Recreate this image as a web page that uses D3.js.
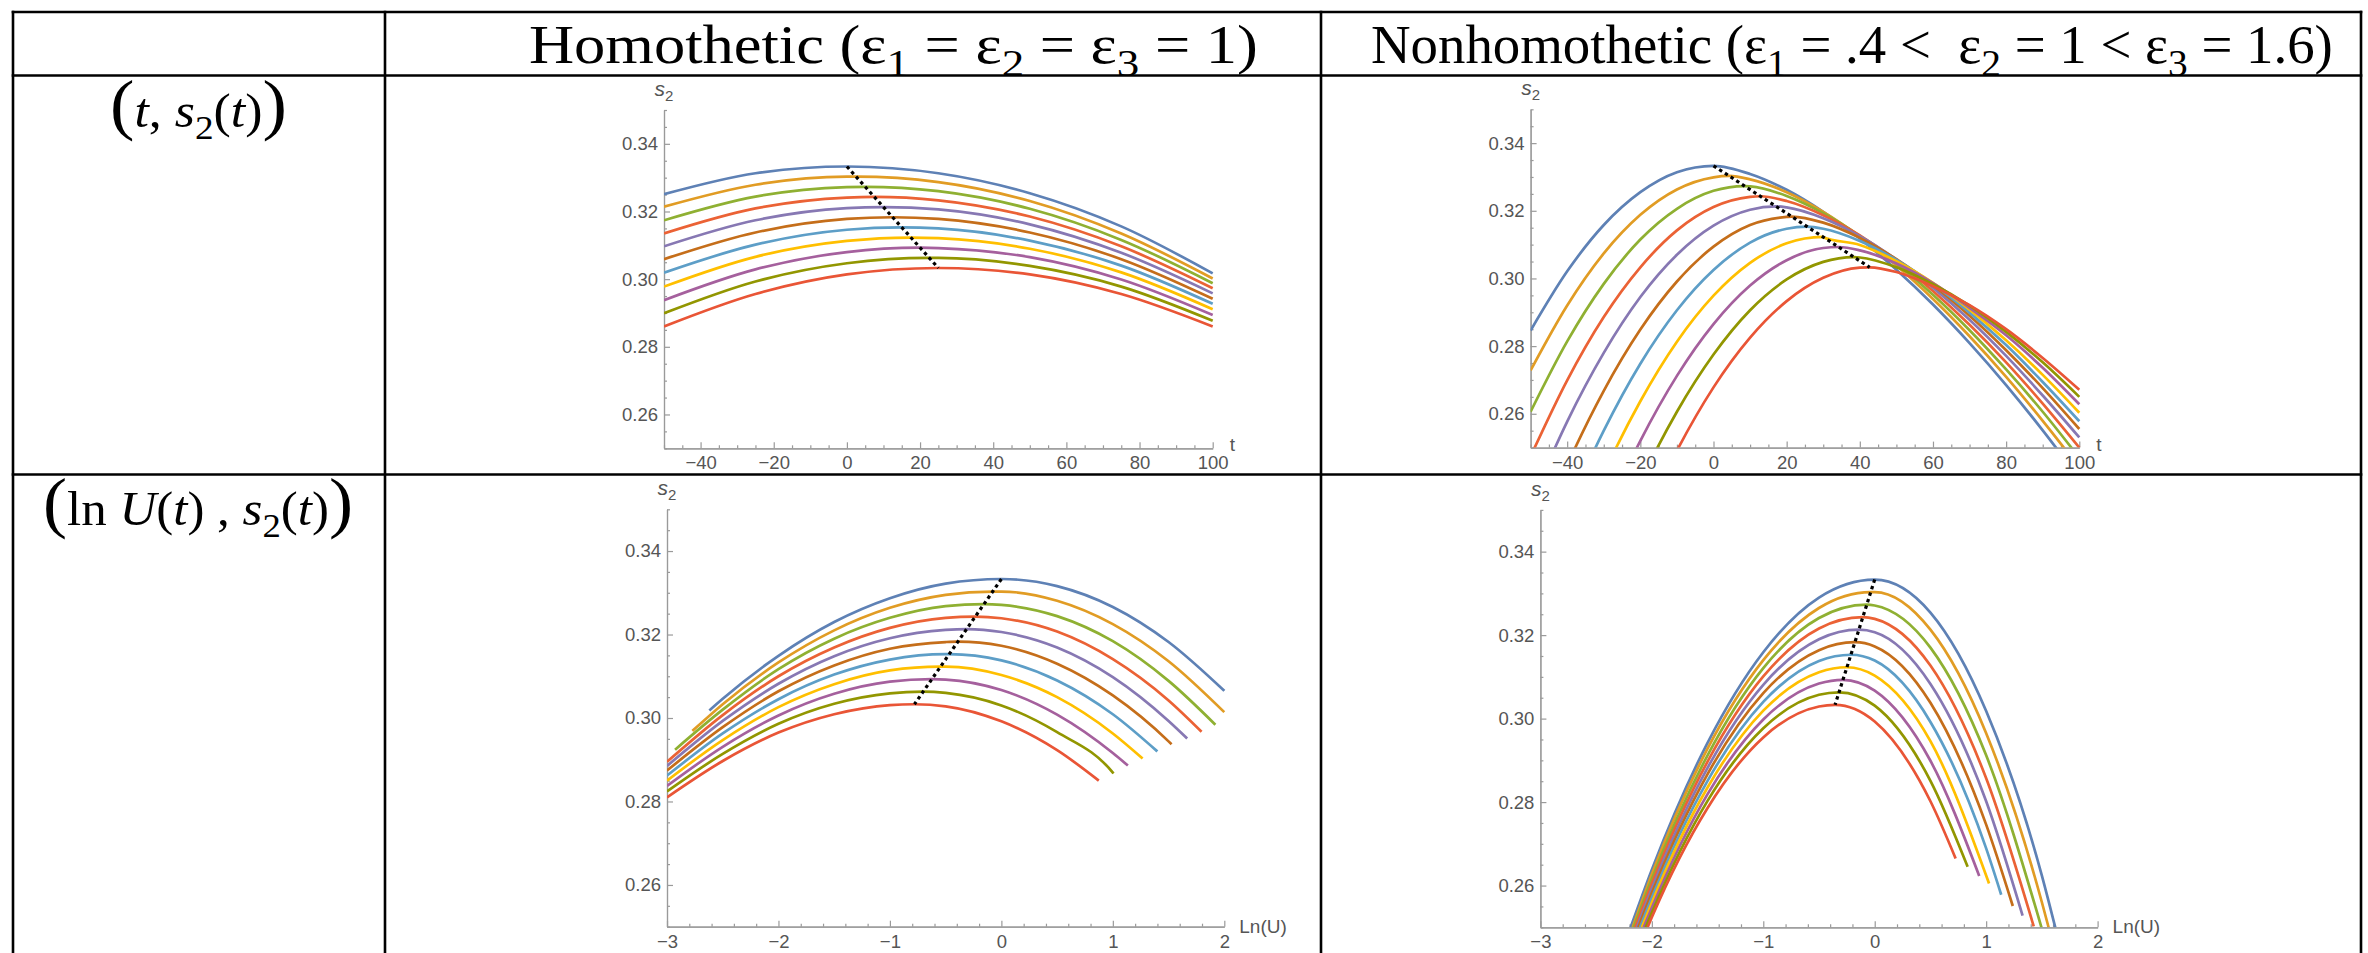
<!DOCTYPE html>
<html>
<head>
<meta charset="utf-8">
<title>s2 paths</title>
<script src="https://cdn.jsdelivr.net/npm/d3@7/dist/d3.min.js"></script>
<style>
  body { margin: 0; background: #fff; }
  svg { display: block; }
</style>
</head>
<body>
<div id="chart"></div>
<script>
// Mathematica default plot colours, one per curve
const curveColors = ['#5e81b5', '#e19c24', '#8fb032', '#eb6235', '#8778b3', '#c56e1a', '#5d9ec7', '#ffbf00', '#a5609d', '#929600', '#e95536']

// peak share of every curve (same in all four panels)
const peakShare = [0.3333, 0.3303, 0.3273, 0.3243, 0.3213, 0.3183, 0.3153, 0.3123, 0.3093, 0.3063, 0.3033]

// top left: homothetic, s2 against t
const homTGrid = [-50, -25, 0, 25, 50, 75, 100]
const homTValues = [
  [0.3251, 0.3313, 0.3333, 0.3313, 0.3254, 0.3156, 0.3017],
  [0.3214, 0.3279, 0.3303, 0.3287, 0.3231, 0.3135, 0.3002],
  [0.3174, 0.3244, 0.3272, 0.3260, 0.3208, 0.3116, 0.2988],
  [0.3135, 0.3209, 0.3241, 0.3233, 0.3185, 0.3097, 0.2973],
  [0.3097, 0.3174, 0.3210, 0.3206, 0.3162, 0.3078, 0.2958],
  [0.3059, 0.3138, 0.3178, 0.3178, 0.3138, 0.3059, 0.2942],
  [0.3019, 0.3102, 0.3146, 0.3150, 0.3114, 0.3040, 0.2927],
  [0.2978, 0.3066, 0.3113, 0.3121, 0.3090, 0.3020, 0.2911],
  [0.2938, 0.3029, 0.3080, 0.3092, 0.3065, 0.2999, 0.2894],
  [0.2899, 0.2993, 0.3047, 0.3063, 0.3039, 0.2978, 0.2877],
  [0.2860, 0.2956, 0.3014, 0.3033, 0.3014, 0.2956, 0.2860]
]
const homTPeak = [0, 2.5, 5, 7.5, 10, 12.5, 15, 17.5, 20, 22.5, 25]

// top right: nonhomothetic, s2 against t
const nonTGrid = [-50, -40, -30, -20, -10, 0, 10, 20, 30, 40, 50, 60, 70, 80, 90, 100]
const nonTValues = [
  [0.2846, 0.3021, 0.3158, 0.3255, 0.3314, 0.3333, 0.3309, 0.3262, 0.3197, 0.3118, 0.3026, 0.2923, 0.2809, 0.2685, 0.2551, 0.2408],
  [0.2728, 0.2920, 0.3074, 0.3188, 0.3263, 0.3299, 0.3293, 0.3255, 0.3197, 0.3124, 0.3038, 0.2939, 0.2829, 0.2709, 0.2579, 0.2441],
  [0.2606, 0.2814, 0.2984, 0.3115, 0.3206, 0.3259, 0.3272, 0.3244, 0.3193, 0.3126, 0.3045, 0.2952, 0.2847, 0.2731, 0.2606, 0.2470],
  [0.2474, 0.2699, 0.2886, 0.3033, 0.3142, 0.3211, 0.3241, 0.3229, 0.3187, 0.3127, 0.3052, 0.2963, 0.2863, 0.2752, 0.2630, 0.2500],
  [0.2335, 0.2577, 0.2780, 0.2945, 0.3070, 0.3156, 0.3203, 0.3210, 0.3178, 0.3125, 0.3056, 0.2973, 0.2878, 0.2771, 0.2654, 0.2530],
  [0.2189, 0.2448, 0.2668, 0.2849, 0.2991, 0.3094, 0.3158, 0.3182, 0.3165, 0.3120, 0.3057, 0.2980, 0.2890, 0.2788, 0.2676, 0.2555],
  [0.2039, 0.2314, 0.2550, 0.2748, 0.2906, 0.3025, 0.3106, 0.3147, 0.3147, 0.3111, 0.3055, 0.2984, 0.2899, 0.2803, 0.2694, 0.2578],
  [0.1878, 0.2170, 0.2423, 0.2637, 0.2813, 0.2949, 0.3046, 0.3104, 0.3122, 0.3099, 0.3051, 0.2987, 0.2908, 0.2817, 0.2715, 0.2603],
  [0.1710, 0.2019, 0.2289, 0.2520, 0.2712, 0.2865, 0.2979, 0.3054, 0.3090, 0.3083, 0.3044, 0.2986, 0.2913, 0.2832, 0.2736, 0.2628],
  [0.1539, 0.1864, 0.2151, 0.2398, 0.2606, 0.2775, 0.2906, 0.2997, 0.3049, 0.3062, 0.3033, 0.2983, 0.2920, 0.2842, 0.2752, 0.2650],
  [0.1357, 0.1699, 0.2002, 0.2266, 0.2491, 0.2678, 0.2825, 0.2933, 0.3002, 0.3032, 0.3019, 0.2977, 0.2921, 0.2850, 0.2765, 0.2671]
]
const nonTPeak = [0, 4.3, 8.5, 12.8, 17.1, 21.4, 25.6, 29.9, 34.2, 38.4, 42.7]

// bottom row: s2 against ln U
const lnUGrid = [-3, -2.5, -2, -1.5, -1, -0.5, 0, 0.5, 1, 1.5, 2]

// bottom left: homothetic
const homUValues = [
  [null, 0.3046, 0.3149, 0.3230, 0.3287, 0.3322, 0.3333, 0.3316, 0.3266, 0.3182, 0.3065],
  [null, 0.3033, 0.3133, 0.3210, 0.3264, 0.3295, 0.3303, 0.3281, 0.3225, 0.3136, 0.3014],
  [null, 0.3020, 0.3117, 0.3190, 0.3240, 0.3268, 0.3271, 0.3244, 0.3184, 0.3089, null],
  [0.2895, 0.3007, 0.3100, 0.3169, 0.3216, 0.3240, 0.3239, 0.3207, 0.3141, 0.3042, null],
  [0.2885, 0.2993, 0.3082, 0.3148, 0.3191, 0.3211, 0.3206, 0.3169, 0.3098, 0.2993, null],
  [0.2874, 0.2978, 0.3064, 0.3126, 0.3166, 0.3182, 0.3173, 0.3130, 0.3054, 0.2944, null],
  [0.2862, 0.2963, 0.3045, 0.3104, 0.3140, 0.3153, 0.3138, 0.3090, 0.3009, null, null],
  [0.2850, 0.2947, 0.3026, 0.3081, 0.3114, 0.3123, 0.3103, 0.3050, 0.2963, null, null],
  [0.2837, 0.2931, 0.3006, 0.3058, 0.3087, 0.3092, 0.3067, 0.3008, 0.2916, null, null],
  [0.2824, 0.2914, 0.2986, 0.3034, 0.3059, 0.3060, 0.3030, 0.2966, 0.2869, null, null],
  [0.2810, 0.2897, 0.2965, 0.3009, 0.3031, 0.3028, 0.2992, 0.2923, null, null, null]
]
const homUPeak = [0, -0.078, -0.156, -0.234, -0.312, -0.39, -0.468, -0.546, -0.624, -0.702, -0.78]
const homUStart = [[-2.62, 0.3018], [-2.772, 0.2969], [-2.928, 0.2924], null, null, null, null, null, null, null, null]
const homUEnd = [null, null, [1.92, 0.2984], [1.796, 0.2967], [1.667, 0.2951], [1.527, 0.2937], [1.399, 0.2920], [1.267, 0.2903], [1.135, 0.2886], [1.006, 0.2867], [0.874, 0.2850]]

// bottom right: nonhomothetic
const nonUValues = [
  [null, null, 0.2638, 0.2942, 0.3159, 0.3290, 0.3333, 0.3254, 0.3018, 0.2624, null],
  [null, null, 0.2627, 0.2928, 0.3140, 0.3265, 0.3303, 0.3213, 0.2965, 0.2560, null],
  [null, null, 0.2616, 0.2912, 0.3121, 0.3241, 0.3271, 0.3170, 0.2912, null, null],
  [null, null, 0.2605, 0.2897, 0.3101, 0.3216, 0.3239, 0.3127, 0.2857, null, null],
  [null, null, 0.2593, 0.2882, 0.3081, 0.3190, 0.3207, 0.3083, 0.2802, null, null],
  [null, null, 0.2582, 0.2867, 0.3061, 0.3164, 0.3173, 0.3038, 0.2746, null, null],
  [null, null, 0.2571, 0.2851, 0.3040, 0.3138, 0.3139, 0.2992, 0.2689, null, null],
  [null, null, 0.2559, 0.2835, 0.3019, 0.3111, 0.3103, 0.2946, null, null, null],
  [null, null, 0.2547, 0.2819, 0.2998, 0.3084, 0.3067, 0.2899, null, null, null],
  [null, null, 0.2535, 0.2803, 0.2977, 0.3057, 0.3031, 0.2851, null, null, null],
  [null, null, 0.2524, 0.2786, 0.2955, 0.3029, 0.2993, 0.2802, null, null, null]
]
const nonUPeak = [0, -0.036, -0.071, -0.107, -0.142, -0.178, -0.214, -0.249, -0.285, -0.32, -0.356]
const nonUStart = [[-2.19, 0.25], [-2.172, 0.25], [-2.163, 0.25], [-2.15, 0.25], [-2.134, 0.25], [-2.121, 0.25], [-2.106, 0.25], [-2.089, 0.25], [-2.073, 0.25], [-2.055, 0.25], [-2.038, 0.25]]
const nonUEnd = [[1.62, 0.25], [1.56, 0.25], [1.496, 0.25], [1.427, 0.2502], [1.327, 0.2528], [1.239, 0.2551], [1.135, 0.2578], [1.026, 0.2605], [0.938, 0.2623], [0.834, 0.2645], [0.726, 0.2665]]

// ticks
const shareTicks = [0.26, 0.28, 0.30, 0.32, 0.34]
const tTicks = [-40, -20, 0, 20, 40, 60, 80, 100]
const lnUTicks = [-3, -2, -1, 0, 1, 2]

// header and row captions
const headerParts = [
  [{ t: 'Homothetic (' }, { t: 'ε' }, { t: '1', sub: true }, { t: ' = ε' }, { t: '2', sub: true }, { t: ' = ε' }, { t: '3', sub: true }, { t: ' = 1)' }],
  [{ t: 'Nonhomothetic (' }, { t: 'ε' }, { t: '1', sub: true }, { t: ' = .4 <  ε' }, { t: '2', sub: true }, { t: ' = 1 < ε' }, { t: '3', sub: true }, { t: ' = 1.6)' }]
]
const rowParts = [
  [{ t: '(', big: true }, { t: 't', it: true }, { t: ', ' }, { t: 's', it: true }, { t: '2', sub: true }, { t: '(' }, { t: 't', it: true }, { t: ')' }, { t: ')', big: true }],
  [{ t: '(', big: true }, { t: 'ln ' }, { t: 'U', it: true }, { t: '(' }, { t: 't', it: true }, { t: ') , ' }, { t: 's', it: true }, { t: '2', sub: true }, { t: '(' }, { t: 't', it: true }, { t: ')' }, { t: ')', big: true }]
]

// put grid values, start/end and the peak of one curve together, sorted by x
function curvePoints (grid, values, peakX, peakY, start, end) {
  const pts = []
  grid.forEach((x, i) => {
    if (values[i] !== null) pts.push([x, values[i]])
  })
  pts.push([peakX, peakY])
  if (start) pts.push(start)
  if (end) pts.push(end)
  pts.sort((a, b) => a[0] - b[0])
  return pts.filter((p, i) => i === 0 || p[0] - pts[i - 1][0] > 1e-6)
}

function stepValues (from, to, step) {
  const n = Math.round((to - from) / step)
  return d3.range(n + 1).map(i => +(from + i * step).toFixed(4))
}

class SharePanels {
  defaultSetting () {
    return {
      width: 2368,
      height: 953,
      rule: '#000',
      axis: '#9a9a9a',
      label: '#555',
      labelFont: '"Liberation Sans", Arial, sans-serif',
      textFont: '"Liberation Serif", "Times New Roman", serif'
    }
  }

  constructor (selector, option = {}) {
    this.config = Object.assign(this.defaultSetting(), option)
    const { width, height } = this.config
    this.clipCount = 0
    this.svg = d3.select(selector)
      .append('svg')
      .attr('width', width)
      .attr('height', height)
    this.svg.append('rect')
      .attr('width', width)
      .attr('height', height)
      .attr('fill', '#fff')
  }

  // table rules
  drawTable (xs, ys) {
    const { rule, height } = this.config
    const g = this.svg.append('g')
      .attr('stroke', rule)
      .attr('stroke-width', 2.6)
    xs.forEach(x => {
      g.append('line').attr('x1', x).attr('x2', x).attr('y1', ys[0] - 1.3).attr('y2', height)
    })
    ys.forEach(y => {
      g.append('line').attr('x1', xs[0] - 1.3).attr('x2', xs[xs.length - 1] + 1.3).attr('y1', y).attr('y2', y)
    })
  }

  // text made of pieces, squeezed or stretched to a given left/right
  richText (parts, size, baseline, left, right, bigSize) {
    const text = this.svg.append('text')
      .attr('y', baseline)
      .attr('font-family', this.config.textFont)
      .attr('font-size', size)
      .attr('fill', '#000')
      .style('white-space', 'pre')
    let shift = 0
    parts.forEach(p => {
      const want = p.sub ? size * 0.24 : 0
      const span = text.append('tspan').text(p.t).attr('dy', want - shift)
      shift = want
      if (p.sub) span.attr('font-size', size * 0.72)
      if (p.it) span.attr('font-style', 'italic')
      if (p.big) span.attr('font-size', bigSize)
    })
    const box = text.node().getBBox()
    const k = (right - left) / box.width
    text.attr('transform', `translate(${left},0) scale(${k},1) translate(${-box.x},0)`)
    return text
  }

  drawPanel (cfg) {
    const { left, right, bottom, top, xDomain, xTicks, xMinorStep, xFormat, xName, series, peaks } = cfg
    const { axis, label, labelFont } = this.config
    const x = d3.scaleLinear().domain(xDomain).range([left, right])
    const y = d3.scaleLinear().domain([0.25, 0.35]).range([bottom, top])
    const g = this.svg.append('g')

    const clipId = 'clip' + (this.clipCount++)
    this.svg.append('clipPath').attr('id', clipId)
      .append('rect')
      .attr('x', left)
      .attr('y', top - 5)
      .attr('width', right - left + 2)
      .attr('height', bottom - top + 5)

    const xMinor = stepValues(xDomain[0], xDomain[1], xMinorStep)
      .filter(v => xTicks.every(t => Math.abs(t - v) > 1e-6))
    const yMinor = stepValues(0.25, 0.35, 0.005)
      .filter(v => shareTicks.every(t => Math.abs(t - v) > 1e-6))

    // minor ticks first, major ticks with labels on top
    g.append('g').attr('transform', `translate(0,${bottom})`)
      .call(d3.axisBottom(x).tickValues(xMinor).tickSize(-3).tickSizeOuter(0).tickFormat(''))
    g.append('g').attr('transform', `translate(0,${bottom})`)
      .call(d3.axisBottom(x).tickValues(xTicks).tickSize(-6).tickSizeOuter(0).tickPadding(8).tickFormat(xFormat))
    g.append('g').attr('transform', `translate(${left},0)`)
      .call(d3.axisLeft(y).tickValues(yMinor).tickSize(-3).tickSizeOuter(0).tickFormat(''))
    const yAxis = g.append('g').attr('transform', `translate(${left},0)`)
      .call(d3.axisLeft(y).tickValues(shareTicks).tickSize(-6).tickSizeOuter(0).tickFormat(d3.format('.2f')))

    g.selectAll('.domain, .tick line').attr('stroke', axis).attr('stroke-width', 1.2)
    g.selectAll('.tick text')
      .attr('fill', label)
      .attr('font-family', labelFont)
      .attr('font-size', 18.5)
    yAxis.selectAll('.tick text').attr('x', -6)

    // axis names
    const sName = g.append('text')
      .attr('x', left)
      .attr('y', top - 14)
      .attr('text-anchor', 'middle')
      .attr('fill', label)
      .attr('font-family', labelFont)
      .attr('font-size', 21)
    sName.append('tspan').attr('font-style', 'italic').text('s')
    sName.append('tspan').attr('font-size', 15).attr('dy', 5).text('2')
    g.append('text')
      .attr('x', right + (xName === 't' ? 17 : 15))
      .attr('y', bottom + (xName === 't' ? 3 : 6))
      .attr('fill', label)
      .attr('font-family', labelFont)
      .attr('font-size', 19)
      .text(xName)

    // curves
    const line = d3.line()
      .x(d => x(d[0]))
      .y(d => y(d[1]))
      .curve(d3.curveMonotoneX)
    g.append('g')
      .attr('clip-path', `url(#${clipId})`)
      .selectAll('path')
      .data(series)
      .enter()
      .append('path')
      .attr('d', d => line(d))
      .attr('fill', 'none')
      .attr('stroke', (d, i) => curveColors[i])
      .attr('stroke-width', 2.7)

    // dotted line through the peaks
    g.append('path')
      .attr('d', d3.line().x(d => x(d[0])).y(d => y(d[1]))(peaks))
      .attr('fill', 'none')
      .attr('stroke', '#000')
      .attr('stroke-width', 3.2)
      .attr('stroke-dasharray', '3.4,3.4')
  }

  render () {
    this.drawTable([13, 385, 1321, 2361], [12, 75.5, 474.5])

    this.richText(headerParts[0], 54, 63, 529, 1258, 54)
    this.richText(headerParts[1], 54, 63, 1371, 2333, 54)
    this.richText(rowParts[0], 48, 127, 110, 287, 68)
    this.richText(rowParts[1], 48, 525, 43, 353, 68)

    const tFormat = d3.format('d')
    const uFormat = d3.format('d')

    const homT = homTValues.map((v, i) => curvePoints(homTGrid, v, homTPeak[i], peakShare[i]))
    const nonT = nonTValues.map((v, i) => curvePoints(nonTGrid, v, nonTPeak[i], peakShare[i]))
    const homU = homUValues.map((v, i) => curvePoints(lnUGrid, v, homUPeak[i], peakShare[i], homUStart[i], homUEnd[i]))
    const nonU = nonUValues.map((v, i) => curvePoints(lnUGrid, v, nonUPeak[i], peakShare[i], nonUStart[i], nonUEnd[i]))

    this.drawPanel({
      left: 664, right: 1212.7, bottom: 448.3, top: 110,
      xDomain: [-50, 100], xTicks: tTicks, xMinorStep: 5, xFormat: tFormat, xName: 't',
      series: homT, peaks: homTPeak.map((t, i) => [t, peakShare[i]])
    })
    this.drawPanel({
      left: 1530.6, right: 2079.3, bottom: 447.6, top: 109.3,
      xDomain: [-50, 100], xTicks: tTicks, xMinorStep: 5, xFormat: tFormat, xName: 't',
      series: nonT, peaks: nonTPeak.map((t, i) => [t, peakShare[i]])
    })
    this.drawPanel({
      left: 667, right: 1224.3, bottom: 926.7, top: 509.3,
      xDomain: [-3, 2], xTicks: lnUTicks, xMinorStep: 0.2, xFormat: uFormat, xName: 'Ln(U)',
      series: homU, peaks: homUPeak.map((u, i) => [u, peakShare[i]])
    })
    this.drawPanel({
      left: 1540.4, right: 2097.6, bottom: 927.3, top: 509.9,
      xDomain: [-3, 2], xTicks: lnUTicks, xMinorStep: 0.2, xFormat: uFormat, xName: 'Ln(U)',
      series: nonU, peaks: nonUPeak.map((u, i) => [u, peakShare[i]])
    })
  }
}

const chart = new SharePanels('#chart')
chart.render()
</script>
</body>
</html>
